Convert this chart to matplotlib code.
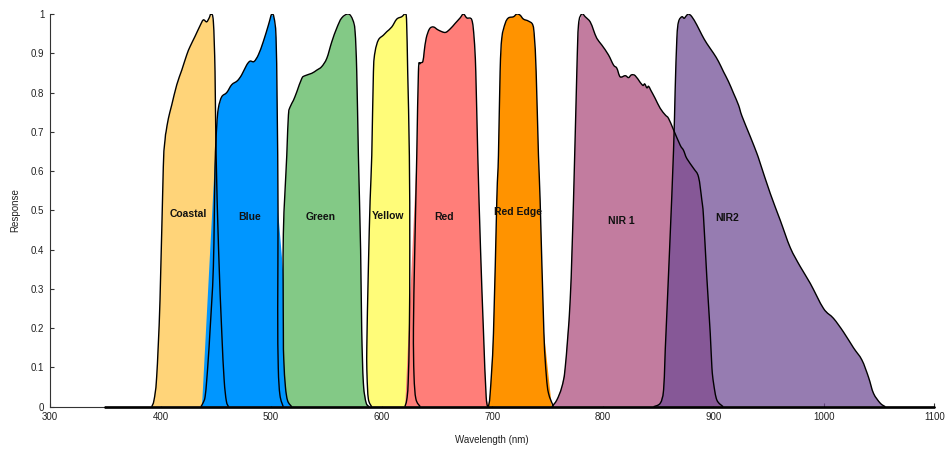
import numpy as np
import matplotlib.pyplot as plt
from matplotlib.path import Path
from matplotlib.patches import PathPatch

plt.rcParams['font.family'] = ['Liberation Sans', 'DejaVu Sans']

# relative spectral response of each band, (wavelength nm, response)
band_names = ['Coastal', 'Blue', 'Green', 'Yellow', 'Red', 'Red Edge', 'NIR 1', 'NIR2']

coastal_nm = [392, 394.1, 396.5, 399.5, 402.5, 404.1, 405, 407.1, 410.1, 414.7, 419.2, 423.7,
              426.7, 431.2, 435.7, 438.7, 441.7, 444, 445.7, 447.8, 449.3, 450.2, 452.5,
              455.3, 457.5, 459.5, 461.5]
coastal_resp = [0, 0.017, 0.076, 0.27, 0.61, 0.68, 0.70, 0.734, 0.768, 0.82, 0.857, 0.896,
                0.917, 0.943, 0.97, 0.985, 0.98, 0.99, 1.0, 0.98, 0.853, 0.65, 0.4,
                0.195, 0.07, 0.015, 0]

blue_nm = [436.5, 438.5, 440.3, 441.8, 443.3, 444.8, 447.8, 449.3, 450.8, 452.3, 455.3, 459.9,
           464.4, 469.5, 473.4, 477.9, 481, 484.6, 488.5, 493, 497.6, 500.6, 502.7, 504.5,
           505.5, 506.3, 506, 506.5, 508, 511]
blue_resp = [0, 0.01, 0.025, 0.068, 0.127, 0.195, 0.357, 0.61, 0.713, 0.76, 0.789, 0.80,
             0.82, 0.83, 0.845, 0.87, 0.88, 0.879, 0.896, 0.93, 0.972, 1.0, 0.99, 0.94,
             0.77, 0.5, 0.25, 0.1, 0.03, 0]

green_nm = [518.7, 515, 513, 511.5, 511.1, 511.1, 514.2, 515.7, 517.5, 520.2, 523.3, 527.8,
            530.8, 536.8, 541.3, 545.8, 550.4, 554.9, 559.4, 563.9, 570, 573.9, 576, 577.5,
            579, 581, 582, 583.5, 586, 589]
green_resp = [0, 0.015, 0.05, 0.12, 0.2, 0.44, 0.64, 0.743, 0.765, 0.78, 0.802, 0.836,
              0.843, 0.849, 0.857, 0.866, 0.887, 0.929, 0.964, 0.99, 1.0, 0.985, 0.955, 0.853,
              0.64, 0.4, 0.195, 0.06, 0.01, 0]

yellow_nm = [591, 588, 586.8, 586.6, 588, 589.6, 591.1, 592.6, 594.1, 597.1, 601.6, 604.7,
             609.2, 613.7, 618.2, 621.8, 622.7, 623.6, 625.1, 625.5, 625.1, 624, 622.7, 621]
yellow_resp = [0, 0.02, 0.08, 0.15, 0.35, 0.526, 0.64, 0.853, 0.904, 0.934, 0.946, 0.955,
               0.967, 0.987, 0.993, 1.0, 0.972, 0.853, 0.64, 0.4, 0.195, 0.06, 0.017, 0]

red_nm = [635, 631, 629.3, 628.8, 630, 631.8, 633.3, 634.8, 637.3, 638.5, 640.3, 643.3,
          646.9, 651.4, 657.5, 662, 666.5, 671, 674, 677.1, 681.6, 683.7, 685.2, 687,
          689.5, 692.1, 694.6, 696.6]
red_resp = [0, 0.02, 0.08, 0.2, 0.4, 0.64, 0.853, 0.874, 0.879, 0.904, 0.938, 0.962,
            0.967, 0.959, 0.953, 0.962, 0.976, 0.99, 1.0, 0.99, 0.985, 0.938, 0.853, 0.64,
            0.4, 0.195, 0.025, 0]

rededge_nm = [696.6, 698.2, 701.2, 704.2, 705.7, 707.2, 708.7, 711.8, 714.7, 719.3, 722.3,
              725.3, 728.3, 732.8, 736.8, 738.3, 739.8, 741.9, 743.4, 746.8, 749, 751, 755.5]
rededge_resp = [0, 0.034, 0.187, 0.526, 0.64, 0.853, 0.938, 0.976, 0.99, 0.993, 1.0,
                0.997, 0.987, 0.982, 0.972, 0.938, 0.853, 0.64, 0.526, 0.19, 0.08, 0.034, 0]

nir1_nm = [754, 758.5, 763, 766.1, 770.6, 773.6, 776.6, 778.1, 781.1, 784.2, 788.7, 791.7,
           794.7, 799.2, 805.2, 809.8, 812.8, 815.8, 820.4, 823.4, 826, 829.4, 833.9, 836.5,
           838, 840, 841.5, 843.5, 847.5, 852, 856.6, 859.6, 864.1, 870.1, 873.1, 876.1,
           882.2, 886.7, 889.7, 891.2, 894.2, 897.3, 898.8, 900.3, 903.3, 909]
nir1_resp = [0, 0.017, 0.05, 0.10, 0.272, 0.526, 0.853, 0.972, 1.0, 0.993, 0.98, 0.959,
             0.938, 0.921, 0.896, 0.87, 0.862, 0.84, 0.843, 0.838, 0.845, 0.843, 0.826, 0.818,
             0.822, 0.812, 0.816, 0.806, 0.785, 0.76, 0.743, 0.734, 0.705, 0.666, 0.653, 0.632,
             0.607, 0.585, 0.526, 0.484, 0.33, 0.187, 0.10, 0.06, 0.017, 0]

nir2_nm = [846, 852.1, 855.1, 856.6, 860.5, 864.1, 865.5, 867.1, 868.6, 871.6, 873.7, 875.5,
           877.6, 880.7, 885.2, 889.7, 894.2, 900.3, 904.8, 909.3, 913.8, 918.4, 922.9, 926,
           933.5, 939.5, 942.5, 951.6, 960.6, 969.7, 978.7, 987.8, 999.8, 1008.8, 1017.9,
           1026.9, 1034.5, 1040.5, 1045, 1051.1, 1055.7]
nir2_resp = [0, 0.009, 0.043, 0.145, 0.399, 0.653, 0.8, 0.938, 0.98, 0.993, 0.989, 0.995,
             1.0, 0.993, 0.972, 0.947, 0.925, 0.9, 0.879, 0.853, 0.828, 0.798, 0.768, 0.74,
             0.688, 0.645, 0.62, 0.543, 0.475, 0.405, 0.357, 0.314, 0.25, 0.225, 0.19,
             0.15, 0.119, 0.075, 0.034, 0.009, 0]

# full wavelength range of the measured curves (zero response outside the bands)
scan_range = (350, 1100)

# where the shaded area runs out past the outline at the foot of a band:
# (left foot nm, left knee response, right foot nm, right knee response)
fill_feet = {
    'Blue': (437.5, 0.71, 521, 0.5),
    'Red': (621.3, 0.64, None, None),
    'Red Edge': (None, None, 754, 0.19),
}

# label anchor (nm, response) for each band
label_nm = [425.2, 481, 545, 606.2, 656.6, 723.2, 816.4, 912.4]
label_resp = [0.49, 0.482, 0.484, 0.486, 0.484, 0.495, 0.473, 0.48]

band_nm = [coastal_nm, blue_nm, green_nm, yellow_nm, red_nm, rededge_nm, nir1_nm, nir2_nm]
band_resp = [coastal_resp, blue_resp, green_resp, yellow_resp, red_resp, rededge_resp,
             nir1_resp, nir2_resp]
band_colors = ['#FFD479', '#0096FF', '#83C986', '#FFFC79', '#FF7E79', '#FF9300',
               '#C27C9F', '#704B95']
band_alpha = [1, 1, 1, 1, 1, 1, 1, 0.73]


def fill_outline(name, x, y):
    x = np.asarray(x, float)
    y = np.asarray(y, float)
    if name not in fill_feet:
        return x, y
    lo, lo_knee, hi, hi_knee = fill_feet[name]
    peak = int(np.argmax(y))
    idx = np.arange(len(y))
    keep = np.ones(len(y), bool)
    xs, ys = [], []
    if lo is not None:
        keep &= ~((idx < peak) & (y < lo_knee))
        xs.append(lo)
        ys.append(0)
    if hi is not None:
        keep &= ~((idx > peak) & (y < hi_knee))
    xs += list(x[keep])
    ys += list(y[keep])
    if hi is not None:
        xs.append(hi)
        ys.append(0)
    return np.array(xs), np.array(ys)


def smooth_path(x, y):
    # Catmull-Rom through the points, written as cubic Bezier segments
    p = np.column_stack([x, y]).astype(float)
    ext = np.vstack([p[0], p, p[-1]])
    verts = [p[0]]
    codes = [Path.MOVETO]
    for i in range(1, len(ext) - 2):
        p0, p1, p2, p3 = ext[i - 1], ext[i], ext[i + 1], ext[i + 2]
        verts += [p1 + (p2 - p0) / 6, p2 - (p3 - p1) / 6, p2]
        codes += [Path.CURVE4] * 3
    return Path(verts, codes)


fig = plt.figure(figsize=(9.49, 4.5), dpi=100)
ax = fig.add_axes([50 / 949, 43.3 / 450, 884.3 / 949, 392.7 / 450])

# shaded areas first, outlines on top of all of them
for name, x, y, c, a in zip(band_names, band_nm, band_resp, band_colors, band_alpha):
    fx, fy = fill_outline(name, x, y)
    ax.fill(fx, fy, color=c, alpha=a, lw=0, zorder=2)

for x, y in zip(band_nm, band_resp):
    ax.add_patch(PathPatch(smooth_path(x, y), fill=False, edgecolor='black', lw=1.0,
                           joinstyle='round', zorder=3))
    ax.plot(scan_range, [0, 0], color='black', lw=1.0, zorder=3, clip_on=False)

for name, lx, ly in zip(band_names, label_nm, label_resp):
    ax.text(lx, ly, name, ha='center', va='center', fontsize=7.5, fontweight='bold',
            color='#111111', zorder=4)

ax.set_xlim(300, 1100)
ax.set_ylim(0, 1)
ax.set_xticks(np.arange(300, 1101, 100))
yt = np.round(np.arange(0, 1.01, 0.1), 1)
ax.set_yticks(yt)
ax.set_yticklabels(['0' if v == 0 else ('1' if v == 1 else f'{v:g}') for v in yt])

for side in ['top', 'right']:
    ax.spines[side].set_visible(False)
for side in ['left', 'bottom']:
    ax.spines[side].set_color('#333333')
    ax.spines[side].set_linewidth(0.8)

ax.tick_params(direction='in', length=3, width=0.8, colors='#333333', labelsize=7,
               labelcolor='#222222')
ax.tick_params(axis='y', pad=4)
ax.tick_params(axis='x', pad=4)

ax.set_xlabel('Wavelength (nm)', fontsize=7, color='#222222')
ax.set_ylabel('Response', fontsize=7, color='#222222')
ax.xaxis.set_label_coords(0.5, -0.072)
ax.yaxis.set_label_coords(-0.034, 0.5)

fig.savefig('out.png', dpi=100)
